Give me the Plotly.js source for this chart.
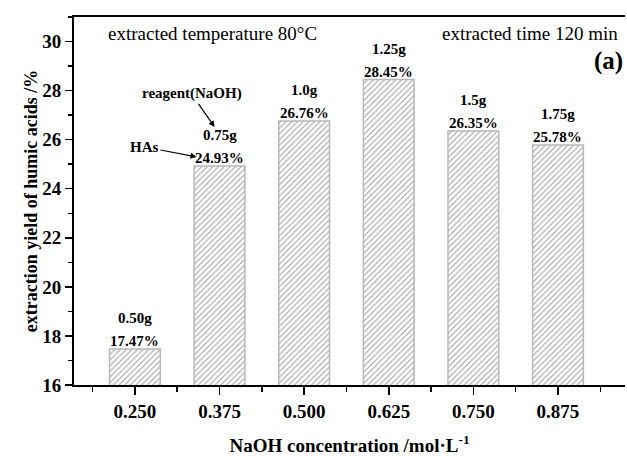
<!DOCTYPE html>
<html>
<head>
<meta charset="utf-8">
<script src="https://cdn.plot.ly/plotly-3.0.1.min.js"></script>
<style>
  html, body { margin: 0; padding: 0; background: #fff; }
  #chart { width: 627px; height: 456px; }
</style>
</head>
<body>
<div id="chart"></div>
<script>
// ---- data ----
const concentration = [0.250, 0.375, 0.500, 0.625, 0.750, 0.875];
const tickLabels = ['0.250', '0.375', '0.500', '0.625', '0.750', '0.875'];
const yieldPct = [17.47, 24.93, 26.76, 28.45, 26.35, 25.78];
const naohMass = ['0.50g', '0.75g', '1.0g', '1.25g', '1.5g', '1.75g'];

// ---- style ----
const SERIF = 'Liberation Serif, Times New Roman, serif';
const labelFont = { family: SERIF, size: 15, color: '#000', weight: 'bold' };

const trace = {
  type: 'bar',
  x: concentration,
  y: yieldPct,
  width: 0.075,
  marker: {
    color: '#ffffff',
    line: { color: '#b8b8b8', width: 1.5 },
    pattern: { shape: '/', fgcolor: '#a0a0a0', bgcolor: '#ffffff', size: 4, solidity: 0.28, fillmode: 'replace' }
  },
  hoverinfo: 'skip'
};

const annotations = [];
concentration.forEach((c, i) => {
  annotations.push({
    x: c, y: yieldPct[i], xref: 'x', yref: 'y',
    text: '<b>' + yieldPct[i].toFixed(2) + '%</b>',
    showarrow: false, xanchor: 'center', yanchor: 'middle', yshift: 8,
    font: labelFont
  });
  annotations.push({
    x: c, y: yieldPct[i], xref: 'x', yref: 'y',
    text: '<b>' + naohMass[i] + '</b>',
    showarrow: false, xanchor: 'center', yanchor: 'middle', yshift: 31,
    font: labelFont
  });
});

// pointer annotations on the second bar
annotations.push({
  x: concentration[1], y: yieldPct[1], xref: 'x', yref: 'y',
  xshift: -5, yshift: 39,
  text: '<b>reagent(NaOH)</b>', font: labelFont,
  showarrow: true, ax: -23, ay: -33,
  arrowhead: 2, arrowsize: 1, arrowwidth: 1.2, arrowcolor: '#000', standoff: 0
});
annotations.push({
  x: concentration[1], y: yieldPct[1], xref: 'x', yref: 'y',
  xshift: -23, yshift: 9,
  text: '<b>HAs</b>', font: labelFont,
  showarrow: true, ax: -52, ay: -10,
  arrowhead: 2, arrowsize: 1, arrowwidth: 1.2, arrowcolor: '#000', standoff: 0
});

// condition labels
annotations.push({
  x: 0.058, y: 0.956, xref: 'paper', yref: 'paper',
  text: 'extracted temperature 80°C', showarrow: false,
  xanchor: 'left', yanchor: 'middle',
  font: { family: SERIF, size: 19, color: '#000' }
});
annotations.push({
  x: 0.991, y: 0.956, xref: 'paper', yref: 'paper',
  text: 'extracted time 120 min', showarrow: false,
  xanchor: 'right', yanchor: 'middle',
  font: { family: SERIF, size: 19, color: '#000' }
});
annotations.push({
  x: 1.0, y: 0.88, xref: 'paper', yref: 'paper',
  text: '<b>(a)</b>', showarrow: false,
  xanchor: 'right', yanchor: 'middle',
  font: { family: SERIF, size: 25, color: '#000' }
});

const axisFont = { family: SERIF, size: 19, color: '#000', weight: 'bold' };

const layout = {
  width: 627, height: 456,
  margin: { l: 74, r: 2, t: 17, b: 71 },
  paper_bgcolor: '#fff', plot_bgcolor: '#fff',
  showlegend: false,
  font: { family: SERIF, color: '#000' },
  xaxis: {
    range: [0.16, 0.974],
    tickmode: 'array', tickvals: concentration, ticktext: tickLabels,
    ticks: 'outside', ticklen: 8, tickwidth: 1.5, tickcolor: '#000',
    minor: { tick0: 0.1875, dtick: 0.125, ticks: 'outside', ticklen: 5, tickwidth: 1.5, tickcolor: '#000' },
    showline: true, linecolor: '#000', linewidth: 2, mirror: true,
    showgrid: false, zeroline: false,
    tickfont: axisFont,
    title: { text: '<b>NaOH concentration /mol·L<sup>-1</sup></b>', font: { family: SERIF, size: 19, color: '#000', weight: 'bold' }, standoff: 24 },
    automargin: false
  },
  yaxis: {
    range: [16, 31],
    tick0: 16, dtick: 2,
    ticks: 'outside', ticklen: 7, tickwidth: 1.5, tickcolor: '#000',
    minor: { tick0: 17, dtick: 2, ticks: 'outside', ticklen: 4, tickwidth: 1.5, tickcolor: '#000' },
    showline: true, linecolor: '#000', linewidth: 2,
    showgrid: false, zeroline: false,
    tickfont: axisFont,
    title: { text: '<b>extraction yield of humic acids /%</b>', font: { family: SERIF, size: 18, color: '#000', weight: 'bold' }, standoff: 0 },
    automargin: false
  },
  annotations: annotations
};

Plotly.newPlot('chart', [trace], layout, { displayModeBar: false, staticPlot: true });
</script>
</body>
</html>
